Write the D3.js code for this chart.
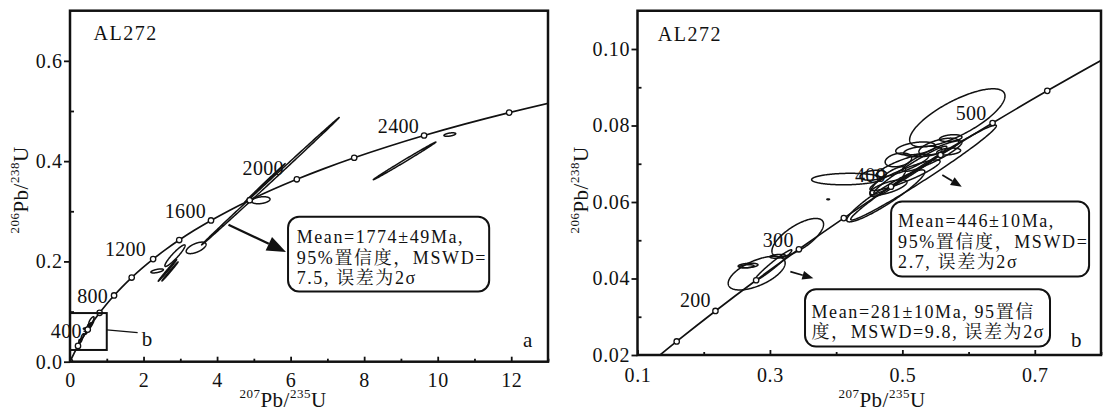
<!DOCTYPE html>
<html><head><meta charset="utf-8">
<script src="https://cdn.jsdelivr.net/npm/d3@7"></script>
<style>
body{margin:0;background:#fff}
</style></head><body><svg id="c" width="1104" height="407"></svg>
<script>
// ---- Concordia table (age Ma, 207Pb/235U, 206Pb/238U) ----
const concAges = [0,50,100,150,200,250,300,350,400,450,500,550,600,700,800,900,1000,1100,1200,1300,1400,1500,1600,1700,1800,1900,2000,2100,2200,2300,2400,2500,2600,2700];
const conc207 = [0,0.05048,0.10350,0.15920,0.21771,0.27917,0.34374,0.41155,0.48280,0.55763,0.63625,0.71885,0.80564,0.99251,1.19873,1.42630,1.67741,1.95452,2.26030,2.59774,2.97009,3.38099,3.83441,4.33477,4.88690,5.49618,6.16853,6.91046,7.72914,8.63262,9.62960,10.72971,11.94370,13.28340];
const conc206 = [0,0.007786,0.015633,0.023542,0.031511,0.039543,0.047637,0.055795,0.064016,0.072300,0.080650,0.089064,0.097544,0.114702,0.132130,0.149830,0.167810,0.186060,0.204590,0.223430,0.242560,0.261990,0.281720,0.301750,0.322110,0.342770,0.363770,0.385080,0.406740,0.428730,0.451070,0.473750,0.496790,0.520190];

const markAgesA = [0,200,400,600,800,1000,1200,1400,1600,1800,2000,2200,2400,2600];
const labelAgesA = [400,800,1200,1600,2000,2400];
const markAgesB = [150,200,250,300,350,400,450,500,550];
const labelAgesB = [200,300,400,500];

// ---- Error ellipses: [207/235, half-range, 206/238, half-range, rho] ----
const oldGrains = [
  [5.45,1.87,0.360,0.127,0.9997],
  [5.30,0.55,0.3565,0.0385,0.9995],
  [5.19,0.25,0.322,0.007,0.3],
  [3.43,0.27,0.227,0.0115,0.6],
  [2.855,0.275,0.2115,0.0215,0.93],
  [2.65,0.25,0.182,0.0215,0.996],
  [2.72,0.22,0.180,0.019,0.996],
  [2.37,0.17,0.181,0.004,0.6],
  [9.10,0.85,0.4005,0.0375,0.9980],
  [10.33,0.16,0.453,0.0035,0.5]
];
const youngGrains = [
  [0.280,0.043,0.0414,0.0044,0.6],
  [0.305,0.028,0.0435,0.0040,0.97],
  [0.267,0.015,0.0434,0.0006,0.3],
  [0.265,0.011,0.0432,0.0004,0.3],
  [0.312,0.012,0.0458,0.0005,0.3],
  [0.342,0.039,0.0507,0.0050,0.7],
  [0.416,0.053,0.0660,0.0015,0.1],
  [0.388,0.002,0.0607,0.0001,0.0],
  [0.475,0.059,0.0616,0.0068,0.93],
  [0.583,0.072,0.0820,0.0076,0.75],
  [0.532,0.110,0.0677,0.0124,0.985],
  [0.573,0.017,0.0767,0.0009,0.3],
  [0.570,0.018,0.0732,0.0009,0.3],
  [0.494,0.020,0.0710,0.0018,0.3],
  [0.456,0.020,0.0670,0.0013,0.3],
  [0.520,0.030,0.0740,0.0017,0.4],
  [0.531,0.029,0.0732,0.0014,0.3],
  [0.504,0.053,0.0670,0.0040,0.9],
  [0.479,0.028,0.0638,0.0020,0.7],
  [0.478,0.027,0.0653,0.0039,0.8],
  [0.512,0.055,0.0684,0.0062,0.97],
  [0.545,0.045,0.0720,0.0040,0.9],
  [0.500,0.040,0.0695,0.0030,0.85],
  [0.555,0.030,0.0745,0.0022,0.6]
];

// ---- Axis ticks ----
const xTicksA = [0,2,4,6,8,10,12], xMinorA = [1,3,5,7,9,11,13];
const yTicksA = [0,0.2,0.4,0.6], yMinorA = [0.1,0.3,0.5];
const xTicksB = [0.1,0.3,0.5,0.7], xMinorB = [0.2,0.4,0.6,0.8];
const yTicksB = [0.02,0.04,0.06,0.08,0.10], yMinorB = [0.03,0.05,0.07,0.09];

const sampleName = "AL272";
const boxA = ["Mean=1774±49Ma,", "95%置信度，MSWD=", "7.5, 误差为2σ"];
const boxB1 = ["Mean=446±10Ma,", "95%置信度，MSWD=", "2.7, 误差为2σ"];
const boxB2 = ["Mean=281±10Ma, 95置信", "度，MSWD=9.8, 误差为2σ"];

const FONT = "Liberation Serif, Times New Roman, Noto Serif CJK SC, Noto Sans CJK SC, serif";
const INK = '#111';
const svg = d3.select('#c');
svg.append('rect').attr('width',1104).attr('height',407).attr('fill','#fff');
const conc = concAges.map((a,i)=>({age:a,x:conc207[i],y:conc206[i]}));

function T(g){ return g.append('text').attr('font-family',FONT).attr('fill',INK); }
function ellipsePath(e, xs, ys){
  const [x,sx,y,sy,r]=e, q=Math.sqrt(1-r*r);
  const pts = d3.range(0,241).map(i=>{const t=i/240*2*Math.PI;
    return [xs(x+sx*Math.cos(t)), ys(y+sy*(r*Math.cos(t)+q*Math.sin(t)))];});
  return d3.line()(pts)+'Z';
}
function arrow(g, x1,y1,x2,y2, hl, hw, sw){
  const a=Math.atan2(y2-y1,x2-x1), bx=x2-hl*Math.cos(a), by=y2-hl*Math.sin(a);
  g.append('line').attr('x1',x1).attr('y1',y1).attr('x2',bx).attr('y2',by).attr('stroke',INK).attr('stroke-width',sw);
  const px=-Math.sin(a)*hw/2, py=Math.cos(a)*hw/2;
  g.append('path').attr('d',`M${x2},${y2}L${bx+px},${by+py}L${bx-px},${by-py}Z`).attr('fill',INK);
}
function ratioTitle(g, x, y, rot, sup1, el1, sup2, el2){
  const t=T(g).attr('text-anchor','middle').attr('letter-spacing',0.5)
    .attr('transform',`translate(${x},${y}) rotate(${rot})`);
  t.append('tspan').attr('font-size',13).attr('dy',-9).text(sup1);
  t.append('tspan').attr('font-size',21).attr('dy',9).text(el1+'/');
  t.append('tspan').attr('font-size',13).attr('dy',-9).text(sup2);
  t.append('tspan').attr('font-size',21).attr('dy',9).text(el2);
}
function textBox(g, x0,y0,x1,y1, lines, tx, baselines){
  g.append('rect').attr('x',x0).attr('y',y0).attr('width',x1-x0).attr('height',y1-y0)
    .attr('rx',11).attr('fill','#fff').attr('stroke',INK).attr('stroke-width',2);
  lines.forEach((l,i)=>T(g).attr('x',tx).attr('y',baselines[i])
    .attr('font-size',18).attr('letter-spacing',1.6).text(l));
}

function panel(opt){
  const {xs, ys, id} = opt;
  const [X0,X1]=xs.range(), [Y0,Y1]=ys.range();
  const g = svg.append('g');
  g.append('clipPath').attr('id',id).append('rect').attr('x',X0).attr('y',Y1).attr('width',X1-X0).attr('height',Y0-Y1);
  const lg = g.append('g');
  const pg = g.append('g').attr('clip-path',`url(#${id})`);
  // concordia
  pg.append('path').datum(conc).attr('fill','none').attr('stroke',INK).attr('stroke-width',1.7)
    .attr('d', d3.line().x(d=>xs(d.x)).y(d=>ys(d.y)).curve(d3.curveCatmullRom));
  // age labels (not clipped)
  opt.labels.forEach(a=>{const d=conc.find(c=>c.age===a), n=opt.nudge[a];
    T(lg).attr('x',xs(d.x)+n[0]).attr('y',ys(d.y)+n[1]).attr('text-anchor','end')
      .attr('font-size',20).attr('letter-spacing',0.3).text(a);});
  // ellipses
  opt.grains.forEach(e=>pg.append('path').attr('d',ellipsePath(e,xs,ys)).attr('fill','none')
    .attr('stroke',INK).attr('stroke-width',1.5));
  // circles
  opt.marks.forEach(a=>{const d=conc.find(c=>c.age===a);
    pg.append('circle').attr('cx',xs(d.x)).attr('cy',ys(d.y)).attr('r',2.7).attr('fill','#fff')
      .attr('stroke',INK).attr('stroke-width',1.3);});
  // axes
  const ax = g.append('g').attr('transform',`translate(0,${Y0})`)
    .call(d3.axisBottom(xs).tickValues(opt.xt).tickFormat(opt.xf).tickSizeInner(-5).tickSizeOuter(0).tickPadding(opt.xpad));
  const axm = g.append('g').attr('transform',`translate(0,${Y0})`)
    .call(d3.axisBottom(xs).tickValues(opt.xm).tickFormat('').tickSizeInner(-3).tickSizeOuter(0));
  const ay = g.append('g').attr('transform',`translate(${X0},0)`)
    .call(d3.axisLeft(ys).tickValues(opt.yt).tickFormat(opt.yf).tickSizeInner(6).tickSizeOuter(0).tickPadding(1.5));
  const aym = g.append('g').attr('transform',`translate(${X0},0)`)
    .call(d3.axisLeft(ys).tickValues(opt.ym).tickFormat('').tickSizeInner(-4).tickSizeOuter(0));
  [ax,axm,ay,aym].forEach(a=>{a.select('.domain').remove();
    a.attr('font-family',FONT).attr('font-size',20);
    a.selectAll('line').attr('stroke',INK).attr('stroke-width',1.8);
    a.selectAll('text').attr('font-size',20).attr('letter-spacing',0.6).attr('fill',INK)
      .attr('font-family',FONT);});
  // frame
  g.append('rect').attr('x',X0).attr('y',Y1).attr('width',X1-X0).attr('height',Y0-Y1)
    .attr('fill','none').attr('stroke',INK).attr('stroke-width',2.5);
  return g;
}

// ---------- Panel a ----------
const xA = d3.scaleLinear().domain([0,13]).range([70,548]);
const yA = d3.scaleLinear().domain([0,0.7]).range([361.7,10.7]);
const gA = panel({xs:xA, ys:yA, id:'clipA', labels:labelAgesA, marks:markAgesA,
  grains:oldGrains.concat(youngGrains),
  nudge:{400:[-6,8.6],800:[-6,7.7],1200:[-7,-2.7],1600:[-5,-2.5],2000:[-13,-4],2400:[-5,-3]},
  xt:xTicksA, xm:xMinorA, yt:yTicksA, ym:yMinorA, xf:d3.format('d'), yf:d3.format('.1f'), xpad:11});
// inset box marker
gA.append('rect').attr('x',xA(0)).attr('y',yA(0.097)).attr('width',xA(1.0)-xA(0)).attr('height',yA(0.0234)-yA(0.097))
  .attr('fill','none').attr('stroke',INK).attr('stroke-width',2);
gA.append('line').attr('x1',xA(1.0)).attr('y1',yA(0.0634)).attr('x2',xA(1.84)).attr('y2',yA(0.058)).attr('stroke',INK).attr('stroke-width',1.4);
T(gA).attr('x',xA(1.95)).attr('y',yA(0.0314)).attr('font-size',21).text('b');
T(gA).attr('x',xA(12.32)).attr('y',yA(0.0294)).attr('font-size',21).text('a');
T(gA).attr('x',xA(0.642)).attr('y',yA(0.642)).attr('font-size',20).attr('letter-spacing',1.5).text(sampleName);
arrow(gA, xA(4.31),yA(0.273), xA(5.875),yA(0.219), 19, 15, 2.2);
textBox(gA, xA(5.93),yA(0.289), xA(11.40),yA(0.14), boxA, xA(6.165), [yA(0.2368),yA(0.1948),yA(0.1554)]);
ratioTitle(svg, 28, 190, -90, '206','Pb','238','U');
ratioTitle(svg, 283, 407, 0, '207','Pb','235','U');

// ---------- Panel b ----------
const xB = d3.scaleLinear().domain([0.1,0.8]).range([637.5,1101]);
const yB = d3.scaleLinear().domain([0.02,0.11]).range([355,10.75]);
const gB = panel({xs:xB, ys:yB, id:'clipB', labels:labelAgesB, marks:markAgesB,
  grains:youngGrains,
  nudge:{200:[-4.6,-3.7],300:[-5.2,-2.3],400:[-5,-5],500:[-6,-2.7]},
  xt:xTicksB, xm:xMinorB, yt:yTicksB, ym:yMinorB, xf:d3.format('.1f'), yf:d3.format('.2f'), xpad:13});
T(gB).attr('x',xB(0.1307)).attr('y',yB(0.1022)).attr('font-size',20).attr('letter-spacing',1.5).text(sampleName);
T(gB).attr('x',xB(0.7548)).attr('y',yB(0.02217)).attr('font-size',21).text('b');
arrow(gB, xB(0.5603),yB(0.06706), xB(0.5897),yB(0.0640), 11, 9, 1.7);
arrow(gB, xB(0.3308),yB(0.04178), xB(0.3656),yB(0.04005), 11, 9, 1.7);
textBox(gB, xB(0.483),yB(0.0601), xB(0.782),yB(0.0405), boxB1, xB(0.4935), [yB(0.05354),yB(0.0479),yB(0.04267)]);
textBox(gB, xB(0.353),yB(0.0372), xB(0.723),yB(0.0222), boxB2, xB(0.3628), [yB(0.0296),yB(0.02437)]);
ratioTitle(svg, 588, 190, -90, '206','Pb','238','U');
ratioTitle(svg, 882, 407, 0, '207','Pb','235','U');
</script></body></html>
